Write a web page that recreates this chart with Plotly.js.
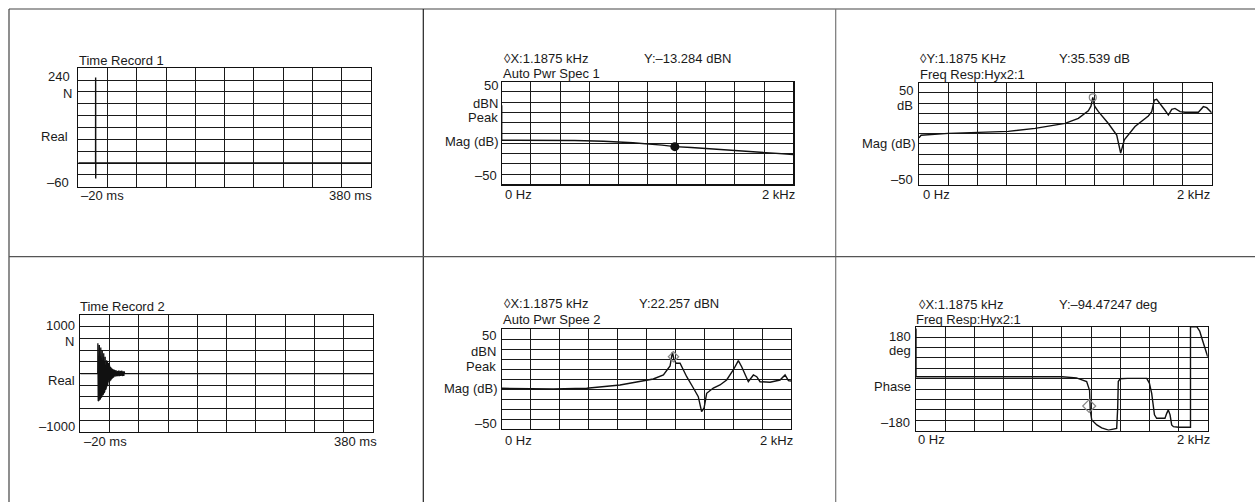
<!DOCTYPE html>
<html>
<head>
<meta charset="utf-8">
<script src="https://cdn.plot.ly/plotly-3.0.1.min.js"></script>
<style>html,body{margin:0;padding:0;background:#fff;}#chart{width:1255px;height:502px;}</style>
</head>
<body>
<div id="chart"></div>
<script>
// ---------- DATA ----------
// Panel 1: Time Record 1 (ms, N)
const t1 = [-20, 3.6, 3.7, 3.8, 3.9, 380];
const real1 = [0, 0, 217, -39, 0, 0];

// Panel 4: Time Record 2 (ms, N)
const t2 = [-20, 3.8, 4.0, 4.5, 5.0, 5.5, 6.0, 6.5, 7.0, 7.5, 8.0, 8.5, 9.0, 9.5, 10.0, 10.5, 11.0, 11.5, 12.0, 12.5, 13.0, 13.5, 14.0, 14.5, 15.0, 15.5, 16.0, 16.5, 17.0, 17.5, 18.0, 18.5, 19.0, 19.5, 20.0, 20.5, 21.0, 21.5, 22.0, 22.5, 23.0, 23.5, 24.0, 24.5, 25.0, 25.5, 26.0, 26.5, 27.0, 27.5, 28.0, 28.5, 29.0, 29.5, 30.0, 30.5, 31.0, 31.5, 32.0, 32.5, 33.0, 33.5, 34.0, 34.5, 35.0, 35.5, 36.0, 36.5, 37.0, 37.5, 38.0, 38.5, 39.0, 39.5, 40.0, 40.5, 380];
const real2 = [0, 0, 520, -470, 505, -460, 490, -445, 470, -430, 450, -410, 425, -390, 400, -370, 375, -350, 350, -330, 320, -300, 290, -275, 260, -245, 230, -220, 205, -195, 180, -170, 160, -150, 140, -130, 120, -115, 105, -100, 92, -88, 80, -76, 70, -66, 60, -57, 54, -52, 50, -48, 48, -46, 46, -45, 45, -44, 44, -43, 43, -42, 42, -42, 42, -41, 41, -41, 40, -40, 40, -40, 40, -40, 40, 0, 0];

// Panel 2: Auto Pwr Spec 1 (Hz, dBN)
const f2 = [0, 0, 100, 300, 500, 700, 900, 1100, 1187.5, 1300, 1500, 1700, 1900, 2000];
const mag2 = [27, -7, -7, -7, -7.3, -8, -9.5, -11.8, -13.3, -14.2, -16, -18, -20, -21];

// Panel 3: Freq Resp Hyx2:1 magnitude (Hz, dB)
const f3 = [0, 14, 200, 405, 610, 793, 998, 1089, 1157, 1175, 1187.5, 1200, 1226, 1294, 1351, 1378, 1403, 1476, 1567, 1590, 1608, 1624, 1647, 1681, 1704, 1727, 1749, 1784, 1818, 1909, 1943, 1966, 2000];
const mag3 = [-4, -1.5, 0.3, 1, 2.3, 5.2, 10.1, 15, 22.5, 27, 35.5, 27, 21.6, 10, -1.3, -19, -6, 7, 17.3, 21.6, 33, 33.7, 29.7, 23, 18.3, 23.9, 24.8, 21.6, 21, 21, 26.5, 25.5, 20.6];

// Panel 5: Auto Pwr Spee 2 (Hz, dBN)
const f5 = [0, 357, 588, 818, 1048, 1118, 1164, 1180, 1190, 1205, 1233, 1279, 1325, 1359, 1382, 1399, 1417, 1463, 1509, 1555, 1601, 1636, 1659, 1705, 1740, 1763, 1786, 1855, 1924, 1959, 1982, 2000];
const mag5 = [-9.3, -10, -9.3, -6, 0, 4, 13, 27, 20, 15.7, 15.7, 2.3, -9, -17.7, -32.7, -29, -14.3, -9, -6, -1, 9, 18.3, 12.3, -2.7, 4, 2.3, -2.7, -3.3, -1, 4, -1.7, -2];

// Panel 6: Freq Resp Hyx2:1 phase (Hz, deg)
const f6 = [0, 0, 1000, 1100, 1170, 1190, 1195, 1205, 1240, 1273, 1320, 1376, 1383, 1387, 1400, 1450, 1582, 1600, 1616, 1627, 1635, 1650, 1707, 1719, 1730, 1742, 1753, 1765, 1800, 1882, 1882, 1925, 1945, 1960, 1982, 2000];
const phase6 = [174, 7, 7, 3, -10, -40, -110, -143, -160, -170, -178, -172, -100, -10, 0, 1, 1, -15, -51, -110, -125, -137, -137, -120, -108, -125, -160, -166, -168, -168, 180, 180, 165, 140, 105, 76];

// Cursor readouts
const cursorF = 1187.5;
const cursorY2 = -13.284;
const cursorY3 = 35.539;
const cursorY5 = 22.257;
const cursorY6 = -94.47247;

// Texts
const headers = ["Time Record 1", "Auto Pwr Spec 1", "Freq Resp:Hyx2:1", "Time Record 2", "Auto Pwr Spee 2", "Freq Resp:Hyx2:1"];
const cursorXLabels = ["◊X:1.1875 kHz", "◊Y:1.1875 KHz", "◊X:1.1875 kHz", "◊X:1.1875 kHz"];
const cursorYLabels = ["Y:–13.284 dBN", "Y:35.539 dB", "Y:22.257 dBN", "Y:–94.47247 deg"];

// ---------- LAYOUT ----------
const W = 1255, H = 502;
const px = v => v / W;
const py = v => 1 - v / H;

// plot boxes in pixels [x0, x1, y0(top), y1(bottom)]
const boxes = [
  [78.3, 371, 68.3, 186.7],
  [501.7, 793.3, 81.7, 184.3],
  [919, 1211.7, 82.7, 184.7],
  [80.3, 373, 315.3, 432],
  [501.7, 791, 329, 429],
  [916, 1207.7, 326.7, 430.7]
];
const xr = [[-20, 380, -20, 40], [0, 2000, 0, 200], [0, 2000, 0, 200], [-20, 380, -20, 40], [0, 2000, 0, 200], [0, 2000, 0, 200]];
const yr = [[-60, 240, -60, 30], [-50, 50, -50, 10], [-50, 50, -50, 10], [-1000, 1000, -1000, 200], [-50, 50, -50, 10], [-180, 180, -180, 36]];

const layout = {
  width: W, height: H,
  margin: {l: 0, r: 0, t: 0, b: 0},
  paper_bgcolor: '#fff', plot_bgcolor: '#fff',
  showlegend: false,
  font: {family: 'Liberation Sans, Arial, sans-serif', size: 13, color: '#1a1a1a'},
  annotations: [], shapes: []
};

boxes.forEach((b, i) => {
  const n = i === 0 ? '' : String(i + 1);
  layout['xaxis' + n] = {
    domain: [px(b[0]), px(b[1])], anchor: 'y' + n,
    range: [xr[i][0], xr[i][1]], tick0: xr[i][2], dtick: xr[i][3],
    showgrid: true, gridcolor: '#1a1a1a', gridwidth: 1,
    showticklabels: false, ticks: '', zeroline: false,
    showline: true, linecolor: '#111', linewidth: 1.2, mirror: true, fixedrange: true
  };
  layout['yaxis' + n] = {
    domain: [py(b[3]), py(b[2])], anchor: 'x' + n,
    range: [yr[i][0], yr[i][1]], tick0: yr[i][2], dtick: yr[i][3],
    showgrid: true, gridcolor: '#1a1a1a', gridwidth: 1,
    showticklabels: false, ticks: '', zeroline: false,
    showline: true, linecolor: '#111', linewidth: 1.2, mirror: true, fixedrange: true
  };
});

function txt(text, x, y, anchor) {
  layout.annotations.push({
    text: text, xref: 'paper', yref: 'paper', x: px(x), y: py(y),
    xanchor: anchor, yanchor: 'middle', showarrow: false,
    font: {family: 'Liberation Sans, Arial, sans-serif', size: 13, color: '#1a1a1a'}
  });
}

// Panel 1
txt(headers[0], 77.3, 60, 'left');
txt('240', 71.5, 76.7, 'right');
txt('N', 74, 93.3, 'right');
txt('Real', 70, 136, 'right');
txt('–60', 71, 182.3, 'right');
txt('–20 ms', 78.5, 195.7, 'left');
txt('380 ms', 374, 195.7, 'right');
// Panel 2
txt(cursorXLabels[0], 501.7, 58.3, 'left');
txt(cursorYLabels[0], 641.7, 58.3, 'left');
txt(headers[1], 501, 73.3, 'left');
txt('50', 500, 86, 'right');
txt('dBN', 500, 103.3, 'right');
txt('Peak', 500, 117.7, 'right');
txt('Mag (dB)', 500, 141.7, 'right');
txt('–50', 498.5, 175, 'right');
txt('0 Hz', 502.5, 194.3, 'left');
txt('2 kHz', 797, 194.3, 'right');
// Panel 3
txt(cursorXLabels[1], 918.3, 58.3, 'left');
txt(cursorYLabels[1], 1056.7, 58.3, 'left');
txt(headers[2], 918.3, 75, 'left');
txt('50', 915, 90, 'right');
txt('dB', 915, 105, 'right');
txt('Mag (dB)', 916.5, 143.3, 'right');
txt('–50', 915, 179.3, 'right');
txt('0 Hz', 920.5, 194, 'left');
txt('2 kHz', 1212, 194, 'right');
// Panel 4
txt(headers[3], 78.3, 306.7, 'left');
txt('1000', 77, 325, 'right');
txt('N', 76, 341.7, 'right');
txt('Real', 76.5, 380, 'right');
txt('–1000', 77, 426.7, 'right');
txt('–20 ms', 82, 441.7, 'left');
txt('380 ms', 379, 441.7, 'right');
// Panel 5
txt(cursorXLabels[2], 501.7, 303.3, 'left');
txt(cursorYLabels[2], 636.7, 303.3, 'left');
txt(headers[4], 501, 319.3, 'left');
txt('50', 497.5, 335, 'right');
txt('dBN', 497.5, 351.7, 'right');
txt('Peak', 497.5, 366, 'right');
txt('Mag (dB)', 498.5, 388.3, 'right');
txt('–50', 498.5, 423.3, 'right');
txt('0 Hz', 502.5, 440.7, 'left');
txt('2 kHz', 795.5, 440.7, 'right');
// Panel 6
txt(cursorXLabels[3], 916.7, 304.3, 'left');
txt(cursorYLabels[3], 1056.7, 304.3, 'left');
txt(headers[5], 914.3, 319.3, 'left');
txt('180', 912.5, 336, 'right');
txt('deg', 912.5, 350.7, 'right');
txt('Phase', 912.5, 386, 'right');
txt('–180', 911.5, 422.7, 'right');
txt('0 Hz', 916, 439, 'left');
txt('2 kHz', 1212, 439, 'right');

// Frame lines
function seg(x0, y0, x1, y1, c) {
  layout.shapes.push({type: 'line', xref: 'paper', yref: 'paper',
    x0: px(x0), y0: py(y0), x1: px(x1), y1: py(y1), line: {color: c, width: 1.2}});
}
seg(9, 9, 1255, 9, '#444');
seg(9, 9, 9, 502, '#444');
seg(423.3, 9, 423.3, 502, '#222');
seg(835.7, 9, 835.7, 502, '#777');
seg(9, 256.7, 1255, 256.7, '#555');

// ---------- TRACES ----------
const lineStyle = {color: '#111', width: 1.4};
const traces = [
  {x: t1, y: real1, xaxis: 'x', yaxis: 'y', mode: 'lines', line: lineStyle},
  {x: f2, y: mag2, xaxis: 'x2', yaxis: 'y2', mode: 'lines', line: lineStyle},
  {x: [cursorF], y: [cursorY2], xaxis: 'x2', yaxis: 'y2', mode: 'markers', marker: {symbol: 'circle', size: 9, color: '#111'}},
  {x: f3, y: mag3, xaxis: 'x3', yaxis: 'y3', mode: 'lines', line: lineStyle},
  {x: [cursorF], y: [cursorY3], xaxis: 'x3', yaxis: 'y3', mode: 'markers', marker: {symbol: 'circle-open', size: 7, color: '#888', line: {width: 1.2, color: '#888'}}},
  {x: t2, y: real2, xaxis: 'x4', yaxis: 'y4', mode: 'lines', line: {color: '#111', width: 1.3}},
  {x: f5, y: mag5, xaxis: 'x5', yaxis: 'y5', mode: 'lines', line: lineStyle},
  {x: [cursorF], y: [cursorY5], xaxis: 'x5', yaxis: 'y5', mode: 'markers', marker: {symbol: 'diamond-open', size: 8, color: '#888', line: {width: 1.2, color: '#888'}}},
  {x: f6, y: phase6, xaxis: 'x6', yaxis: 'y6', mode: 'lines', line: lineStyle},
  {x: [cursorF], y: [cursorY6], xaxis: 'x6', yaxis: 'y6', mode: 'markers', marker: {symbol: 'diamond-open', size: 10, color: '#888', line: {width: 1.2, color: '#888'}}}
];

Plotly.newPlot('chart', traces, layout, {staticPlot: true, displayModeBar: false});
</script>
</body>
</html>
